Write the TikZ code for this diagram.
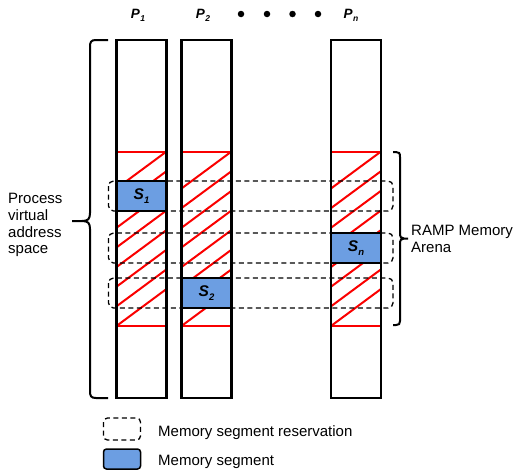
\documentclass[tikz,border=0pt]{standalone}
\usepackage{fontspec}
\setmainfont{Liberation Sans}
\definecolor{segblue}{RGB}{108,158,226}
\definecolor{hatchred}{RGB}{250,0,0}
\begin{document}
\begin{tikzpicture}[x=1pt,y=-1pt,
  colborder/.style={draw=black,line width=2.2pt},
  hatchline/.style={draw=hatchred,line width=2pt},
  reserve/.style={draw=black,dash pattern=on 5pt off 3.5pt,line width=1.3pt,rounded corners=5pt},
  segment/.style={draw=black,line width=2.5pt,fill=segblue},
  legseg/.style={draw=black,line width=1.5pt,fill=segblue,rounded corners=3pt},
  bracepath/.style={draw=black,line width=2pt},
  lbl/.style={font=\fontsize{15}{16.8}\selectfont,inner sep=0pt,align=left},
  plbl/.style={font=\fontsize{13.5}{13.5}\selectfont\bfseries\itshape,inner sep=0pt},
  slbl/.style={font=\fontsize{15.5}{15.5}\selectfont\bfseries\itshape,inner sep=0pt},
  dot/.style={circle,fill=black,inner sep=0pt,minimum size=6.5pt}
]
\useasboundingbox (0,0) rectangle (513,471);

% hatched regions
\foreach \xl/\xr in {116.5/166.5,181.5/231.5,331/381}{
  \draw[hatchline] (\xl,151.5) -- (\xr,151.5);
  \draw[hatchline] (\xl,326) -- (\xr,326);
  \foreach \k in {0,...,7}{
    \draw[hatchline] (\xl,{188.5+\k*19.64}) -- (\xr,{151.5+\k*19.64});
  }
}

% columns
\draw[colborder] (116.5,40) rectangle (166.5,398);
\draw[colborder] (181.5,40) rectangle (231.5,398);
\draw[colborder] (331,40) rectangle (381,398);

% reservations
\draw[reserve] (108.5,181) rectangle (393,211);
\draw[reserve] (108.5,233) rectangle (393,263);
\draw[reserve] (108.5,278) rectangle (393,308);

% segments
\draw[segment] (116.5,181) rectangle (166.5,211);
\draw[segment] (181.5,278) rectangle (231.5,308);
\draw[segment] (331,233) rectangle (381,263);
\node[slbl] (s1) at (141.5,196) {S\raisebox{-4pt}{\fontsize{9.5}{9.5}\selectfont 1}};
\node[slbl] (s2) at (206.5,293) {S\raisebox{-4pt}{\fontsize{9.5}{9.5}\selectfont 2}};
\node[slbl] (sn) at (356,248) {S\raisebox{-4pt}{\fontsize{9.5}{9.5}\selectfont n}};

% column labels
\node[plbl,anchor=base] (p1) at (138,18.3) {P\kern0.6pt\raisebox{-3.4pt}{\fontsize{8.5}{8.5}\selectfont 1}};
\node[plbl,anchor=base] (p2) at (203,18.3) {P\kern0.6pt\raisebox{-3.4pt}{\fontsize{8.5}{8.5}\selectfont 2}};
\node[plbl,anchor=base] (pn) at (351,18.3) {P\kern0.6pt\raisebox{-3.4pt}{\fontsize{8.5}{8.5}\selectfont n}};
\node[dot] (d1) at (241,14) {};
\node[dot] (d2) at (267,14) {};
\node[dot] (d3) at (292.5,14) {};
\node[dot] (d4) at (318,14) {};

% left brace
\draw[bracepath] (108,40) -- (96,40) .. controls (91,40) and (90,42) .. (90,47)
  -- (90,213) .. controls (90,219) and (88,221) .. (82,221) -- (72,221)
  (82,221) .. controls (88,221) and (90,223) .. (90,229)
  -- (90,391) .. controls (90,396) and (91,398) .. (96,398) -- (108,398);
\node[lbl,anchor=north west] (pvas) at (8,193) {Process\\virtual\\address\\space};

% right brace
\draw[bracepath] (393,152) -- (396,152) .. controls (399,152) and (400,153) .. (400,157)
  -- (400,233) .. controls (400,237) and (401,238.5) .. (404,238.5) -- (408,238.5)
  (404,238.5) .. controls (401,238.5) and (400,240) .. (400,244)
  -- (400,321) .. controls (400,324) and (399,325) .. (396,325) -- (393,325);
\node[lbl,anchor=north west] (ramp) at (411,225) {RAMP Memory\\Arena};

% legend
\draw[reserve,rounded corners=4pt] (103.5,418) rectangle (140.5,440);
\node[lbl,anchor=base west] (leg1) at (158,436) {Memory segment reservation};
\draw[legseg] (103.5,449) rectangle (140.5,469);
\node[lbl,anchor=base west] (leg2) at (158,465) {Memory segment};
\end{tikzpicture}
\end{document}
